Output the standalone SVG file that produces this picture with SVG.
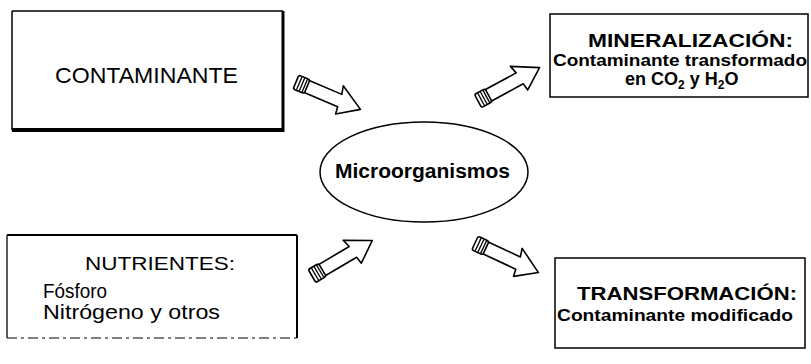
<svg xmlns="http://www.w3.org/2000/svg" xmlns:xlink="http://www.w3.org/1999/xlink" width="811" height="364" viewBox="0 0 811 364">
<style>
  .t { font-family: "Liberation Sans", "DejaVu Sans", sans-serif; fill: #000; }
  .b { font-weight: bold; }
  .edge { stroke: #000; stroke-width: 1.5; fill: none; }
  .arrowbody { fill: #fff; stroke: #000; stroke-width: 1.6; stroke-linejoin: round; }
  .stripe { stroke: #000; stroke-width: 1.3; }
</style>
<defs>
  <g id="blockArrow">
    <path class="arrowbody" d="M11,-6.5 L47,-6.5 L45,-15 L70,0 L49,14 L48,6.5 L11,6.5 Z"/>
    <rect class="arrowbody" x="0" y="-7.5" width="12" height="15" rx="2"/>
    <line class="stripe" x1="3.5" y1="-7" x2="3.5" y2="7"/>
    <line class="stripe" x1="6.5" y1="-7" x2="6.5" y2="7"/>
    <line class="stripe" x1="9.5" y1="-7" x2="9.5" y2="7"/>
  </g>
</defs>
<rect width="811" height="364" fill="#fff"/>

<g id="node-contaminante">
  <line class="edge" x1="12" y1="11" x2="283" y2="11"/>
  <line class="edge" x1="12" y1="11" x2="12" y2="130"/>
  <line x1="12" y1="130" x2="284" y2="130" stroke="#000" stroke-width="4"/>
  <line x1="283" y1="11" x2="283" y2="132" stroke="#000" stroke-width="3"/>
  <text class="t" x="55" y="83" font-size="22" textLength="183" lengthAdjust="spacingAndGlyphs">CONTAMINANTE</text>
</g>

<g id="node-nutrientes">
  <line x1="7" y1="235" x2="297" y2="235" stroke="#000" stroke-width="2"/>
  <line x1="7" y1="235" x2="7" y2="338" stroke="#000" stroke-width="1.3"/>
  <line x1="297" y1="235" x2="297" y2="338" stroke="#000" stroke-width="2"/>
  <line x1="7" y1="338" x2="297" y2="338" stroke="#000" stroke-width="1.2" stroke-dasharray="10 4 3 4"/>
  <text class="t" x="85" y="270" font-size="19" textLength="150" lengthAdjust="spacingAndGlyphs">NUTRIENTES:</text>
  <text class="t" x="43" y="298" font-size="21" textLength="64" lengthAdjust="spacingAndGlyphs">Fósforo</text>
  <text class="t" x="43" y="319" font-size="21" textLength="177" lengthAdjust="spacingAndGlyphs">Nitrógeno y otros</text>
</g>

<g id="node-microorganismos">
  <ellipse cx="424" cy="172" rx="104" ry="50" class="edge"/>
  <text class="t b" x="335" y="178" font-size="20" textLength="175" lengthAdjust="spacingAndGlyphs">Microorganismos</text>
</g>

<g id="node-mineralizacion">
  <rect x="550" y="14" width="258" height="83" class="edge"/>
  <text class="t b" x="588" y="47" font-size="19" textLength="205" lengthAdjust="spacingAndGlyphs">MINERALIZACIÓN:</text>
  <text class="t b" x="553" y="66" font-size="16" textLength="254" lengthAdjust="spacingAndGlyphs">Contaminante transformado</text>
  <text class="t b" x="625" y="85" font-size="18">en CO<tspan font-size="12" dy="4">2</tspan><tspan dy="-4"> y H</tspan><tspan font-size="12" dy="4">2</tspan><tspan dy="-4">O</tspan></text>
</g>

<g id="node-transformacion">
  <rect x="555" y="258" width="250" height="90" class="edge"/>
  <text class="t b" x="577" y="300" font-size="18" textLength="220" lengthAdjust="spacingAndGlyphs">TRANSFORMACIÓN:</text>
  <text class="t b" x="557" y="321" font-size="16" textLength="236" lengthAdjust="spacingAndGlyphs">Contaminante modificado</text>
</g>

<g id="connectors">
  <use xlink:href="#blockArrow" transform="translate(296,82) rotate(23)"/>
  <use xlink:href="#blockArrow" transform="translate(478,101) rotate(-28.5)"/>
  <use xlink:href="#blockArrow" transform="translate(312,276) rotate(-30.5)"/>
  <use xlink:href="#blockArrow" transform="translate(475,243) rotate(25)"/>
</g>
</svg>
